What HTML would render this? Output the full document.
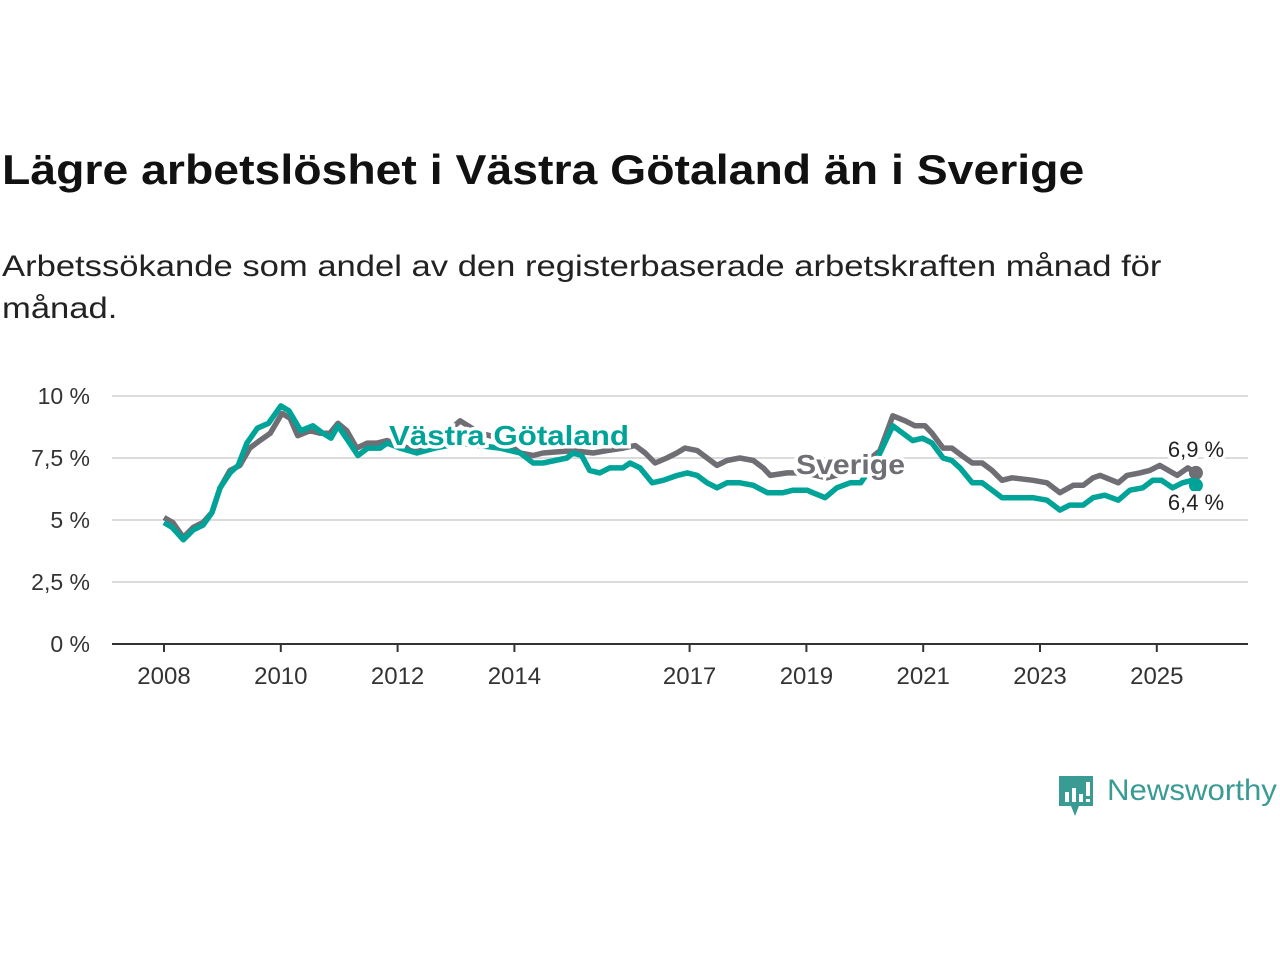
<!DOCTYPE html>
<html><head><meta charset="utf-8"><style>
body{margin:0;background:#fff;width:1280px;height:960px;overflow:hidden;font-family:"Liberation Sans",sans-serif}
h1{position:absolute;left:2px;top:146px;margin:0;font-size:42px;font-weight:bold;color:#111;white-space:nowrap;transform:scaleX(1.104);transform-origin:0 0}
.sub{position:absolute;left:2px;top:246px;margin:0;font-size:30px;line-height:42px;color:#222;white-space:nowrap;transform:scaleX(1.153);transform-origin:0 0}
</style></head><body>
<h1>Lägre arbetslöshet i Västra Götaland än i Sverige</h1>
<p class="sub">Arbetssökande som andel av den registerbaserade arbetskraften månad för<br>månad.</p>
<svg id="c" width="1280" height="960" style="position:absolute;left:0;top:0"></svg>
<script>
const yTicks=[0,2.5,5,7.5,10];
const yTickLabels=["0 %","2,5 %","5 %","7,5 %","10 %"];
const xTicks=[2008,2010,2012,2014,2017,2019,2021,2023,2025];
const seYears=[2008.0,2008.15,2008.33,2008.5,2008.67,2008.82,2008.96,2009.13,2009.3,2009.47,2009.64,2009.82,2010.02,2010.16,2010.29,2010.5,2010.67,2010.84,2010.98,2011.13,2011.3,2011.48,2011.65,2011.82,2012.04,2012.33,2012.64,2013.07,2013.41,2013.75,2014.1,2014.32,2014.49,2015.0,2015.35,2015.59,2015.86,2016.07,2016.24,2016.41,2016.61,2016.78,2016.92,2017.13,2017.3,2017.47,2017.64,2017.86,2018.09,2018.26,2018.38,2018.67,2018.98,2019.35,2019.66,2020.0,2020.26,2020.48,2020.69,2020.86,2021.03,2021.15,2021.34,2021.49,2021.66,2021.84,2022.01,2022.18,2022.35,2022.52,2022.88,2023.12,2023.34,2023.57,2023.74,2023.91,2024.03,2024.34,2024.49,2024.71,2024.88,2025.05,2025.35,2025.53,2025.67];
const seValues=[5.1,4.9,4.3,4.7,4.9,5.3,6.3,7.0,7.2,7.9,8.2,8.5,9.3,9.1,8.4,8.6,8.5,8.5,8.9,8.6,7.9,8.1,8.1,8.2,8.0,7.8,8.1,9.0,8.5,8.3,7.7,7.6,7.7,7.8,7.7,7.8,7.9,8.0,7.7,7.3,7.5,7.7,7.9,7.8,7.5,7.2,7.4,7.5,7.4,7.1,6.8,6.9,6.9,6.7,6.9,7.3,7.8,9.2,9.0,8.8,8.8,8.5,7.9,7.9,7.6,7.3,7.3,7.0,6.6,6.7,6.6,6.5,6.1,6.4,6.4,6.7,6.8,6.5,6.8,6.9,7.0,7.2,6.8,7.1,6.9];
const vgYears=[2008.0,2008.14,2008.33,2008.5,2008.67,2008.82,2008.96,2009.13,2009.27,2009.42,2009.6,2009.79,2010.0,2010.14,2010.34,2010.55,2010.72,2010.86,2010.98,2011.15,2011.32,2011.49,2011.7,2011.82,2012.04,2012.33,2012.64,2013.07,2013.41,2013.75,2014.1,2014.32,2014.49,2014.9,2015.0,2015.15,2015.29,2015.46,2015.63,2015.86,2015.98,2016.15,2016.36,2016.55,2016.79,2016.96,2017.13,2017.3,2017.47,2017.64,2017.86,2018.09,2018.33,2018.6,2018.77,2019.01,2019.11,2019.32,2019.52,2019.75,2019.93,2020.22,2020.48,2020.82,2020.99,2021.15,2021.34,2021.49,2021.63,2021.84,2022.01,2022.18,2022.35,2022.78,2022.88,2023.12,2023.34,2023.51,2023.74,2023.91,2024.11,2024.34,2024.54,2024.76,2024.93,2025.08,2025.27,2025.44,2025.61,2025.67];
const vgValues=[4.9,4.7,4.2,4.6,4.8,5.3,6.3,6.9,7.2,8.1,8.7,8.9,9.6,9.4,8.6,8.8,8.5,8.3,8.8,8.2,7.6,7.9,7.9,8.1,7.9,7.7,7.9,8.1,8.0,7.9,7.7,7.3,7.3,7.5,7.7,7.6,7.0,6.9,7.1,7.1,7.3,7.1,6.5,6.6,6.8,6.9,6.8,6.5,6.3,6.5,6.5,6.4,6.1,6.1,6.2,6.2,6.1,5.9,6.3,6.5,6.5,7.5,8.8,8.2,8.3,8.1,7.5,7.4,7.1,6.5,6.5,6.2,5.9,5.9,5.9,5.8,5.4,5.6,5.6,5.9,6.0,5.8,6.2,6.3,6.6,6.6,6.3,6.5,6.6,6.4];
const NS="http://www.w3.org/2000/svg",svg=document.getElementById('c');
const X=y=>164+(y-2008)*58.4, Y=v=>644-v*24.8;
function mk(t,a,p){const e=document.createElementNS(NS,t);for(const k in a)e.setAttribute(k,a[k]);(p||svg).appendChild(e);return e;}
yTicks.forEach((t,i)=>{
 if(t>0){const g=mk('line',{x1:112,x2:1248,y1:Y(t),y2:Y(t),stroke:'#dcdcdc','stroke-width':2});
 
 }
 const l=mk('text',{x:90,y:Y(t)+8,'text-anchor':'end','font-size':23,fill:'#333'});l.textContent=yTickLabels[i];
 
 
});
const ax=mk('line',{x1:112,x2:1248,y1:644,y2:644,stroke:'#333','stroke-width':2});


xTicks.forEach(t=>{
 mk('line',{x1:X(t),x2:X(t),y1:644,y2:652,stroke:'#333','stroke-width':2});
 const l=mk('text',{x:X(t),y:684,'text-anchor':'middle','font-size':24,fill:'#333'});l.textContent=t;
 
 
});
function line(ys,vs,col,name){
 const p=mk('path',{d:ys.map((y,i)=>(i?'L':'M')+X(y).toFixed(1)+','+Y(vs[i]).toFixed(1)).join(''),fill:'none',stroke:col,'stroke-width':5.5,'stroke-linejoin':'round'});
 
 
 const n=ys.length-1;
 const c=mk('circle',{cx:X(ys[n]),cy:Y(vs[n]),r:7,fill:col});
 
 
}
line(seYears,seValues,'#706e75','sverige-line');
line(vgYears,vgValues,'#00a398','vastra-gotaland-line');
function lab(x,y,txt,col,name,size,w,anchor,len){
 const a={x:x,y:y,'font-size':size,'font-weight':w,fill:col,stroke:'#fff','stroke-width':7,'paint-order':'stroke','text-anchor':anchor||'start'};
 if(len){a.textLength=len;a.lengthAdjust='spacingAndGlyphs';}
 const t=mk('text',a);t.textContent=txt;
 
 
}
lab(389,445,'Västra Götaland','#00a398','vastra-gotaland-label',28,'bold','start',240);
lab(796,474,'Sverige','#706e75','sverige-label',28,'bold','start',109);
const nS=seValues.length-1,nV=vgValues.length-1;
lab(1196,457,seValues[nS].toFixed(1).replace('.',',')+' %','#222','sverige-end-value',22,'normal','middle');
lab(1196,510,vgValues[nV].toFixed(1).replace('.',',')+' %','#222','vastra-gotaland-end-value',22,'normal','middle');
</script>
<div style="position:absolute;left:1059px;top:774px;display:flex;align-items:center">
<svg width="36" height="44"><path d="M0,2h34v30h-14l-4,10l-4,-10h-12z" fill="#3a9b94"/><rect x="6" y="18" width="4" height="10" fill="#fff"/><rect x="13" y="14" width="4" height="14" fill="#fff"/><rect x="20" y="20" width="4" height="8" fill="#fff"/><rect x="27" y="8" width="4" height="14" fill="#fff"/><rect x="27" y="25" width="4" height="3" fill="#fff"/></svg>
<span style="font-size:30px;color:#3a9b94;margin-left:12px;margin-top:-10px;display:inline-block;transform:scaleX(1.04);transform-origin:0 0">Newsworthy</span></div>
</body></html>
